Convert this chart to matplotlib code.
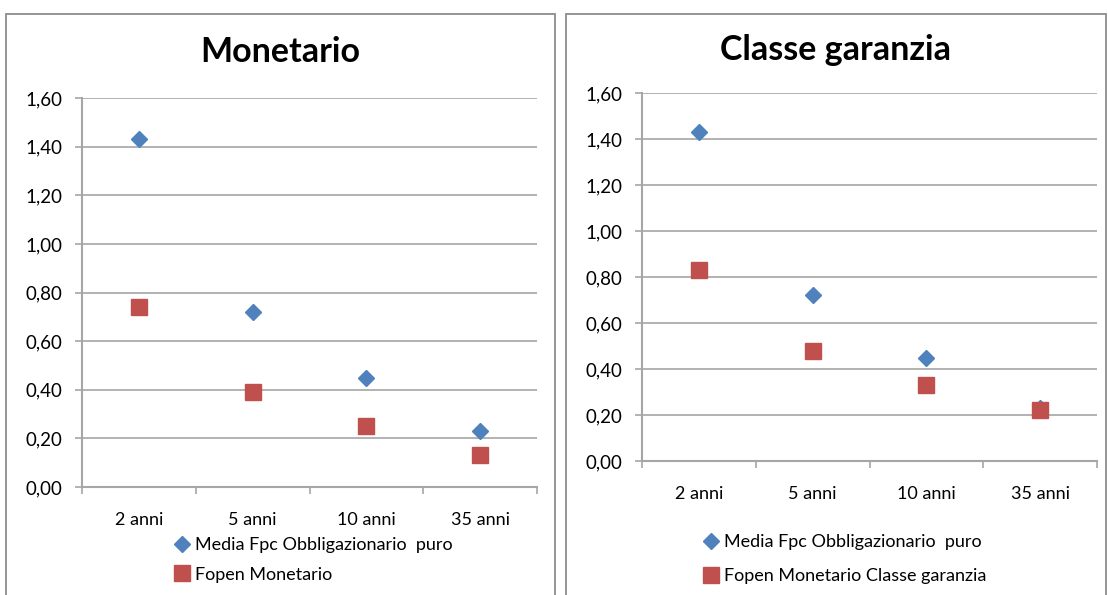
import matplotlib.pyplot as plt
from matplotlib.patches import Rectangle
from matplotlib.ticker import FixedLocator

plt.rcParams['font.family'] = ['Lato', 'DejaVu Sans']

categories = ["2 anni", "5 anni", "10 anni", "35 anni"]
yticks = [0.0, 0.2, 0.4, 0.6, 0.8, 1.0, 1.2, 1.4, 1.6]

media_fpc = [1.43, 0.72, 0.45, 0.23]
fopen_monetario = [0.74, 0.39, 0.25, 0.13]
fopen_garanzia = [0.83, 0.48, 0.33, 0.22]

panels = [
    ("Monetario", media_fpc, fopen_monetario, "Fopen Monetario"),
    ("Classe garanzia", media_fpc, fopen_garanzia, "Fopen Monetario Classe garanzia"),
]

W, H = 1108, 595
fig = plt.figure(figsize=(W / 100, H / 100), dpi=100)

# riquadri dei due grafici (pixel)
boxes = [(6, 14, 555, 600), (566, 14, 1106, 600)]
axes_px = [(82, 98, 537, 487), (642, 93, 1097, 461)]
title_y = [52, 50]
legend_px = [(175, 537), (704, 534)]
legend_gap = [0.75, 1.0]

blue = "#4F81BD"
red = "#C0504D"
grid_col = "#A6A6A6"

for i, (title, s1, s2, lab2) in enumerate(panels):
    x0, y0, x1, y1 = boxes[i]
    fig.patches.append(Rectangle((x0 / W, 1 - y1 / H), (x1 - x0) / W, (y1 - y0) / H,
                                 transform=fig.transFigure, fill=False,
                                 edgecolor="#8C8C8C", linewidth=1.3))
    l, t, r, b = axes_px[i]
    ax = fig.add_axes([l / W, 1 - b / H, (r - l) / W, (b - t) / H])
    x = range(len(categories))
    ax.plot(x, s1, linestyle="none", marker="D", markersize=8, color=blue,
            label="Media Fpc Obbligazionario  puro")
    ax.plot(x, s2, linestyle="none", marker="s", markersize=12, color=red,
            label=lab2)

    ax.set_xlim(-0.5, len(categories) - 0.5)
    ax.set_ylim(0, 1.6)
    ax.set_yticks(yticks)
    ax.set_yticklabels([f"{v:.2f}".replace(".", ",") for v in yticks])
    ax.set_xticks(list(x))
    ax.set_xticklabels(categories)
    ax.xaxis.set_minor_locator(FixedLocator([k - 0.5 for k in range(len(categories) + 1)]))
    ax.tick_params(axis="x", which="major", length=0, pad=18, labelsize=13)
    ax.tick_params(axis="x", which="minor", length=5, color=grid_col, width=1.2)
    ax.tick_params(axis="y", length=5, color=grid_col, width=1.2, labelsize=13.5, pad=9)
    ax.grid(axis="y", color=grid_col, linewidth=1.2)
    ax.set_axisbelow(True)
    for s in ["top", "right"]:
        ax.spines[s].set_visible(False)
    for s in ["left", "bottom"]:
        ax.spines[s].set_color(grid_col)
        ax.spines[s].set_linewidth(1.5)

    cx = (x0 + x1) / 2
    fig.text(cx / W, 1 - title_y[i] / H, title, ha="center", va="center",
             fontsize=24.5, fontweight="bold")

    lx, ly = legend_px[i]
    ax.legend(loc="upper left", bbox_to_anchor=(lx / W, 1 - ly / H),
              bbox_transform=fig.transFigure, frameon=False, fontsize=13,
              handlelength=0.8, handletextpad=0.3, borderaxespad=0,
              borderpad=0, labelspacing=legend_gap[i])

plt.savefig("out.png", dpi=100)
